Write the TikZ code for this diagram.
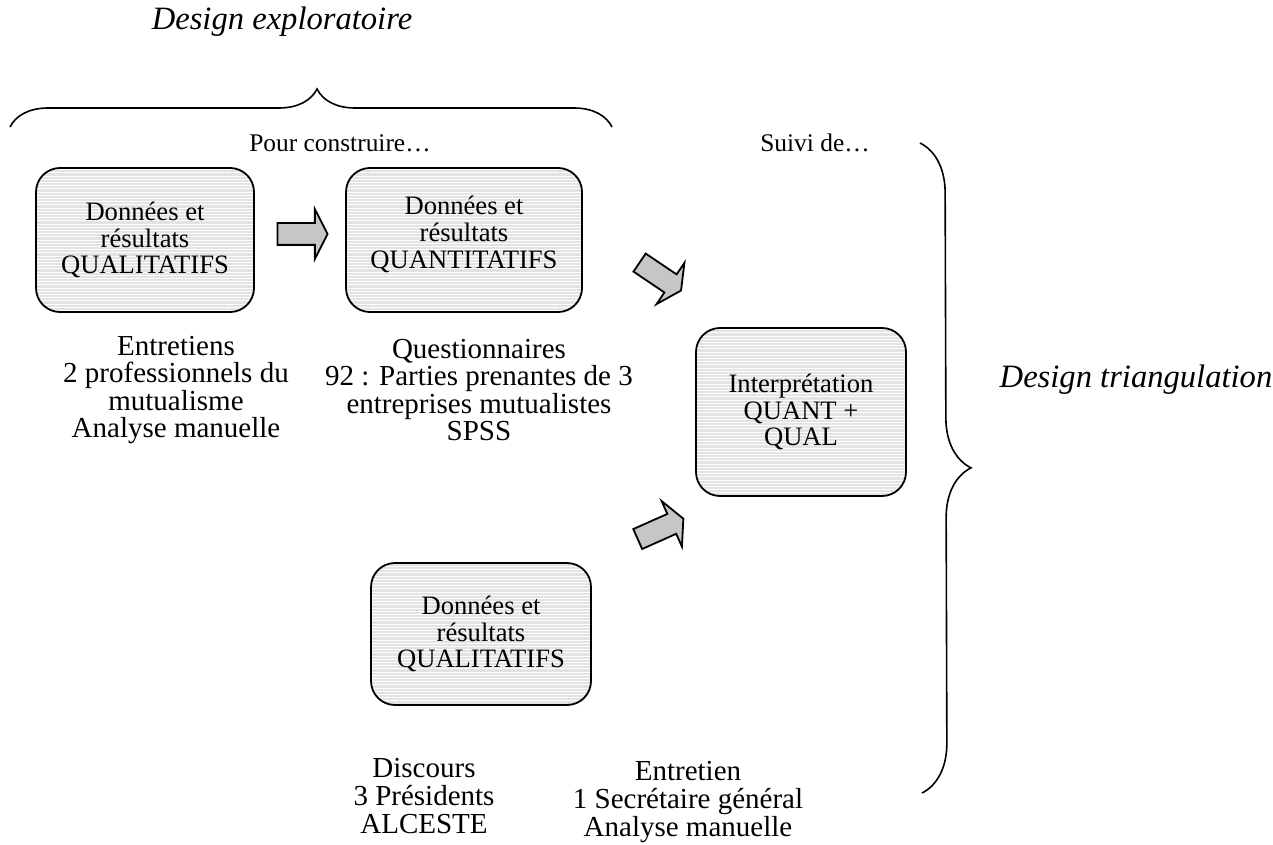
\documentclass[tikz,border=0pt]{standalone}
\usepackage{fontspec}
\setmainfont{Liberation Serif}
\usepackage{tikz}
\usetikzlibrary{shapes.arrows, patterns.meta, decorations.pathreplacing, calc}
\newcommand{\tightlines}{\lineskiplimit=-10pt\relax}
\tikzstyle{databox} = [draw, line width=0.9pt, rounded corners=12pt, align=center, font=\fontsize{13.3}{13.4}\selectfont, preaction={fill=gray!22}, pattern={Lines[angle=0,distance=1.6pt,line width=0.5pt]}, pattern color=white]
\tikzstyle{blockarrow} = [single arrow, draw, line width=0.9pt, fill=gray!45, inner xsep=0pt, inner ysep=5pt, minimum height=25pt, single arrow head extend=7pt, single arrow tip angle=126]
\tikzstyle{curly} = [decorate, line width=0.8pt]
\tikzstyle{legend} = [align=center, font={\fontsize{14.5}{13.8}\selectfont\tightlines}]
\tikzstyle{design} = [font=\fontsize{16.3}{18}\selectfont\itshape]

\begin{document}
\begin{tikzpicture}[x=0.5pt, y=-0.5pt, font=\fontsize{12.7}{13.3}\selectfont]
				\useasboundingbox (0,0) rectangle (1273,845);
				% Boxes:
				\node (qual1) [databox, minimum width=109pt, minimum height=72pt] at (145,240) {Données et\\résultats\\QUALITATIFS};
				\node (quant) [databox, minimum width=118pt, minimum height=72pt, text depth=8pt] at (464,240) {Données et\\résultats\\QUANTITATIFS};
				\node (interp) [databox, minimum width=105pt, minimum height=84pt] at (801,412) {Interprétation\\QUANT +\\QUAL};
				\node (qual2) [databox, minimum width=110pt, minimum height=71pt] at (481,634) {Données et\\résultats\\QUALITATIFS};
				
				% Block arrows between the boxes:
				\node (a1) [blockarrow] at ($(qual1.east)!0.5!(quant.west)+(0,-6)$) {};
				\node (a2) [blockarrow, rotate=-34] at (658,275) {};
				\node (a3) [blockarrow, rotate=24] at (658,530) {};
				
				% Texts under the boxes:
				\node (t1) [legend] at (176,390) {Entretiens\\2 professionnels du\\mutualisme\\Analyse manuelle};
				\node (t2) [legend] at (479,390) {Questionnaires\\92 : Parties prenantes de 3\\entreprises mutualistes\\SPSS};
				\node (t3) [legend] at (424,796) {Discours\\3 Présidents\\ALCESTE};
				\node (t4) [legend] at (688,802) {Entretien\\1 Secrétaire général\\Analyse manuelle};
				
				% Braces:
				\draw [curly, decoration={brace, amplitude=19pt, aspect=0.51}] (10,127) -- (612,127);
				\draw [curly, decoration={brace, amplitude=25pt, aspect=0.5}] (920,143) -- (922,793);
				\node (explo) [design] at (282,22) {Design exploratoire};
				\node (constr) at (340,143) {Pour construire…};
				\node (suivi) at (815,143) {Suivi de…};
				\node (triang) [design] at (1136,380) {Design triangulation};
\end{tikzpicture}
\end{document}
